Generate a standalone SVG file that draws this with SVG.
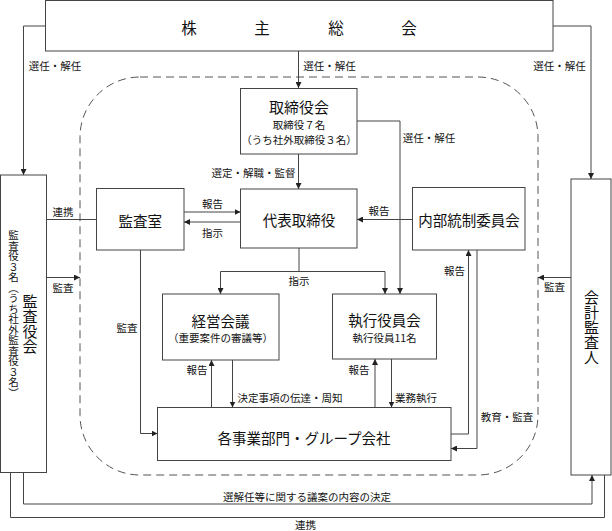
<svg xmlns="http://www.w3.org/2000/svg" width="612" height="531" viewBox="0 0 612 531">
<defs>
<marker id="arr" viewBox="0 0 10 10" refX="10" refY="5" markerWidth="6" markerHeight="6" markerUnits="userSpaceOnUse" orient="auto">
<path d="M0,0 L10,5 L0,10 z" fill="#222"/>
</marker>
<style>
text{font-family:"Noto Sans CJK JP","Noto Sans",sans-serif;fill:#111;dominant-baseline:central;text-anchor:middle}
.box{fill:#fff;stroke:#444;stroke-width:1}
.ln{fill:none;stroke:#444;stroke-width:1}
.a{marker-end:url(#arr)}
.lb{font-size:10.5px}
.t{font-size:14.5px}
.s{font-size:10.5px}
.v{writing-mode:vertical-rl;text-anchor:start}
</style>
</defs>
<rect x="80" y="77" width="458" height="398" rx="60" ry="60" fill="none" stroke="#555" stroke-width="1" stroke-dasharray="8,5"/>
<g id="connectors">
<path class="ln a" d="M45.5,26 H23.5 V175"/>
<path class="ln a" d="M553,26 H591 V179"/>
<path class="ln a" d="M298.5,51 V88"/>
<path class="ln a" d="M357,121 H400 V294"/>
<path class="ln a" d="M298.5,154 V189"/>
<path class="ln" d="M46.5,219.5 H96.5"/>
<path class="ln a" d="M46.5,277.5 H80"/>
<path class="ln a" d="M184,212 H240.5"/>
<path class="ln a" d="M240.5,222 H184"/>
<path class="ln a" d="M412.5,219.5 H357"/>
<path class="ln a" d="M299,248 V271.5 H220.5 V294"/>
<path class="ln a" d="M299,271.5 H385 V294"/>
<path class="ln a" d="M140.5,250 V433.5 H157.5"/>
<path class="ln a" d="M211.5,407.5 V360"/>
<path class="ln a" d="M232.5,360 V407.5"/>
<path class="ln a" d="M375,407.5 V359"/>
<path class="ln a" d="M391.5,359 V407.5"/>
<path class="ln a" d="M451,434 H468.5 V250"/>
<path class="ln a" d="M477,250 V448.5 H451"/>
<path class="ln a" d="M571,277.5 H538"/>
<path class="ln a" d="M23.5,472.5 V504 H592 V475"/>
<path class="ln" d="M10.5,472.5 V517.5 H604.5 V475"/>
<text class="lb" x="55" y="65">選任・解任</text>
<text class="lb" x="329.5" y="65">選任・解任</text>
<text class="lb" x="559.5" y="65">選任・解任</text>
<text class="lb" x="429" y="137">選任・解任</text>
<text class="lb" x="253.5" y="172">選定・解職・監督</text>
<text class="lb" x="63" y="211.5">連携</text>
<text class="lb" x="63" y="287">監査</text>
<text class="lb" x="212.5" y="203">報告</text>
<text class="lb" x="212.5" y="232">指示</text>
<text class="lb" x="379" y="210.5">報告</text>
<text class="lb" x="299" y="280">指示</text>
<text class="lb" x="127" y="327.5">監査</text>
<text class="lb" x="197" y="369">報告</text>
<text class="lb" x="237.5" y="397" style="text-anchor:start">決定事項の伝達・周知</text>
<text class="lb" x="359" y="369">報告</text>
<text class="lb" x="395" y="397.5" style="text-anchor:start">業務執行</text>
<text class="lb" x="454.5" y="270">報告</text>
<text class="lb" x="507" y="416.5">教育・監査</text>
<text class="lb" x="554.5" y="286.5">監査</text>
<text class="lb" x="307" y="496">選解任等に関する議案の内容の決定</text>
<text class="lb" x="305.5" y="524">連携</text>
</g>
<g id="shareholders">
<rect class="box" x="45.5" y="0.5" width="507.5" height="50.5"/>
<text x="189 262 336 409" y="27" style="font-size:15.5px">株主総会</text>
</g>
<g id="board">
<rect class="box" x="240.5" y="88.5" width="116.5" height="65.5"/>
<text class="t" x="299" y="106.5" style="font-size:15px">取締役会</text>
<text class="s" x="299" y="124.5">取締役７名</text>
<text class="s" x="299" y="139.5">（うち社外取締役３名）</text>
</g>
<g id="auditboard">
<rect class="box" x="0.5" y="175" width="46" height="297.5"/>
<text class="v" x="30" y="294" style="font-size:15px">監査役会</text>
<text class="v" x="13.5" y="230" style="font-size:10.5px">監査役３名（うち社外監査役３名）</text>
</g>
<g id="accountant">
<rect class="box" x="571" y="179" width="40" height="296"/>
<text class="v" x="591.5" y="289.5" style="font-size:15px">会計監査人</text>
</g>
<g id="auditoffice">
<rect class="box" x="96.5" y="188.5" width="87.5" height="61.5"/>
<text class="t" x="140.3" y="220">監査室</text>
</g>
<g id="ceo">
<rect class="box" x="240.5" y="189" width="116.5" height="59"/>
<text class="t" x="299" y="219">代表取締役</text>
</g>
<g id="internalcontrol">
<rect class="box" x="412.5" y="187.5" width="112.5" height="62.5"/>
<text class="t" x="469" y="219.5">内部統制委員会</text>
</g>
<g id="management">
<rect class="box" x="162.5" y="294" width="116.5" height="66"/>
<text class="t" x="220.5" y="320">経営会議</text>
<text class="s" x="220.5" y="337">（重要案件の審議等）</text>
</g>
<g id="executives">
<rect class="box" x="332.5" y="294" width="104" height="65"/>
<text class="t" x="384.5" y="319.5">執行役員会</text>
<text class="s" x="384.5" y="337">執行役員11名</text>
</g>
<g id="divisions">
<rect class="box" x="157.5" y="407.5" width="293.5" height="53"/>
<text class="t" x="304" y="437">各事業部門・グループ会社</text>
</g>
</svg>
